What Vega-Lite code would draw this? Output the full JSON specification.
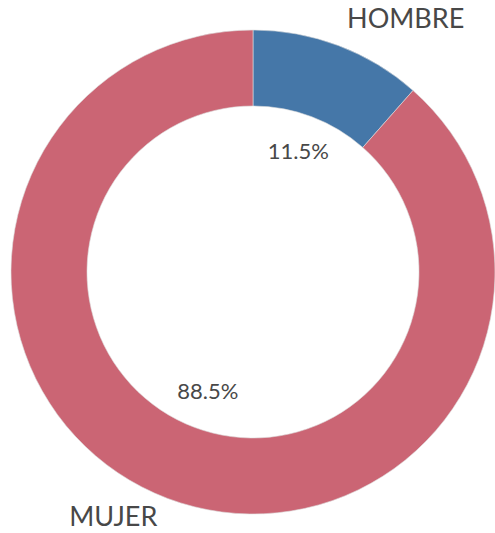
{
  "$schema": "https://vega.github.io/schema/vega-lite/v6.json",
  "width": 484,
  "height": 522,
  "autosize": "none",
  "padding": {"left": 11, "top": 11, "right": 0, "bottom": 0},
  "background": "white",
  "config": {"view": {"stroke": null}},
  "data": {"values": [
    {"sexo": "HOMBRE", "pct": 11.5, "label": "11.5%", "orden": 1},
    {"sexo": "MUJER", "pct": 88.5, "label": "88.5%", "orden": 2}
  ]},
  "encoding": {
    "theta": {"field": "pct", "type": "quantitative", "stack": true},
    "order": {"field": "orden", "type": "quantitative"}
  },
  "layer": [
    {
      "mark": {"type": "arc", "outerRadius": 242, "innerRadius": 166, "stroke": "#dddddd", "strokeWidth": 0.6},
      "encoding": {
        "color": {"field": "sexo", "type": "nominal", "legend": null,
          "scale": {"domain": ["HOMBRE", "MUJER"], "range": ["#4577A8", "#CB6574"]}}
      }
    },
    {
      "mark": {"type": "text", "radius": 128, "font": "Lato", "fontSize": 22, "color": "#484848", "baseline": "middle"},
      "encoding": {"text": {"field": "label"}}
    },
    {
      "mark": {"type": "text", "radius": 282,
        "dx": {"expr": "datum.sexo === 'HOMBRE' ? 53 : -40"},
        "dy": {"expr": "datum.sexo === 'HOMBRE' ? 12 : -18"},
        "font": "Lato", "fontSize": 27, "color": "#484848", "baseline": "middle"},
      "encoding": {"text": {"field": "sexo"}}
    }
  ]
}
